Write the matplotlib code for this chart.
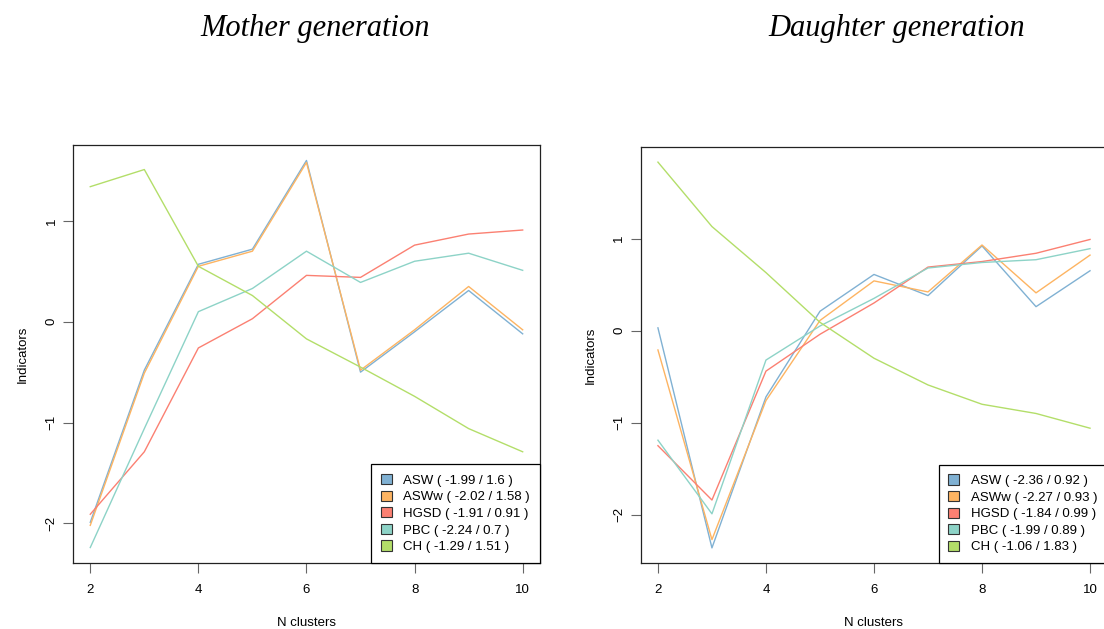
import matplotlib
matplotlib.use("Agg")
import matplotlib.pyplot as plt
from matplotlib.patches import Patch

n_clusters = [2, 3, 4, 5, 6, 7, 8, 9, 10]
names = ["ASW", "ASWw", "HGSD", "PBC", "CH"]
colors = ["#80B1D3", "#FDB462", "#FB8072", "#8DD3C7", "#B3DE69"]

# mother generation
m_asw = [-1.99, -0.48, 0.57, 0.72, 1.60, -0.50, -0.10, 0.31, -0.12]
m_asww = [-2.02, -0.51, 0.55, 0.70, 1.58, -0.48, -0.08, 0.35, -0.08]
m_hgsd = [-1.91, -1.29, -0.26, 0.03, 0.46, 0.44, 0.76, 0.87, 0.91]
m_pbc = [-2.24, -1.06, 0.10, 0.33, 0.70, 0.39, 0.60, 0.68, 0.51]
m_ch = [1.34, 1.51, 0.55, 0.26, -0.17, -0.45, -0.74, -1.06, -1.29]
m_ranges = ["( -1.99 / 1.6 )", "( -2.02 / 1.58 )", "( -1.91 / 0.91 )",
            "( -2.24 / 0.7 )", "( -1.29 / 1.51 )"]

# daughter generation
d_asw = [0.03, -2.36, -0.72, 0.21, 0.61, 0.38, 0.92, 0.26, 0.65]
d_asww = [-0.21, -2.27, -0.76, 0.11, 0.54, 0.42, 0.93, 0.41, 0.82]
d_hgsd = [-1.25, -1.84, -0.44, -0.04, 0.30, 0.69, 0.75, 0.84, 0.99]
d_pbc = [-1.19, -1.99, -0.32, 0.05, 0.35, 0.68, 0.74, 0.77, 0.89]
d_ch = [1.83, 1.13, 0.63, 0.09, -0.30, -0.59, -0.80, -0.90, -1.06]
d_ranges = ["( -2.36 / 0.92 )", "( -2.27 / 0.93 )", "( -1.84 / 0.99 )",
            "( -1.99 / 0.89 )", "( -1.06 / 1.83 )"]

plt.rcParams['font.family'] = ['Liberation Sans', 'DejaVu Sans']

fig = plt.figure(figsize=(11.04, 6.29), dpi=100)


def panel(rect, series, ranges, title, title_x):
    ax = fig.add_axes(rect)
    for vals, c in zip(series, colors):
        ax.plot(n_clusters, vals, color=c, lw=1.0)
    ax.margins(0.04)
    ax.set_xticks([2, 4, 6, 8, 10])
    ax.set_yticks([-2, -1, 0, 1])
    ax.tick_params(axis='x', direction='out', length=7, width=0.8,
                   color='#666666', labelsize=9.5, pad=8)
    ax.tick_params(axis='y', direction='out', length=7, width=0.8,
                   color='#666666', labelsize=9.5, pad=4)
    for lab in ax.get_yticklabels():
        lab.set_rotation(90)
        lab.set_va('center')
    for s in ax.spines.values():
        s.set_linewidth(0.9)
        s.set_color('#222222')
    ax.set_xlabel("N clusters", fontsize=9.5, labelpad=15)
    ax.set_ylabel("Indicators", fontsize=9.5, labelpad=12)
    handles = [Patch(facecolor=c, edgecolor='#333333', lw=0.8) for c in colors]
    labels = [f"{n} {r}" for n, r in zip(names, ranges)]
    leg = ax.legend(handles, labels, loc='lower right', borderaxespad=0,
                    fancybox=False, framealpha=1, edgecolor='black',
                    fontsize=9.5, handlelength=0.8, handleheight=0.8,
                    handletextpad=0.9, labelspacing=0.3, borderpad=0.75)
    leg.get_frame().set_linewidth(0.9)
    fig.text(title_x, 0.955, title, ha='center', va='center', fontsize=22,
             family='Liberation Serif', style='italic')
    return ax


panel([0.0661, 0.1049, 0.4230, 0.6646], [m_asw, m_asww, m_hgsd, m_pbc, m_ch],
      m_ranges, "Mother generation", 0.2855)
panel([0.5803, 0.1044, 0.4227, 0.6624], [d_asw, d_asww, d_hgsd, d_pbc, d_ch],
      d_ranges, "Daughter generation", 0.8125)

fig.savefig("out.png", dpi=100)
